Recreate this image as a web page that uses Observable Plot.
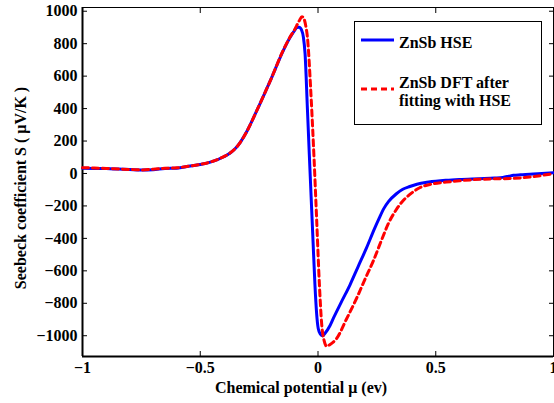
<!DOCTYPE html>
<html>
<head>
<meta charset="utf-8">
<script src="https://cdn.jsdelivr.net/npm/d3@7"></script>
<script src="https://cdn.jsdelivr.net/npm/@observablehq/plot@0.6"></script>
<style>
  html, body { margin: 0; padding: 0; background: #fff; }
  svg text { font-family: "Liberation Serif", "Times New Roman", serif; font-weight: bold; }
</style>
</head>
<body>
<div id="chart"></div>
<script>
// ZnSb HSE (blue solid)
const hseX = [-1, -0.95, -0.9, -0.85, -0.8, -0.75, -0.7, -0.65, -0.6, -0.55, -0.5, -0.45, -0.4, -0.37, -0.35, -0.33, -0.3, -0.26, -0.22, -0.2, -0.15, -0.12, -0.1, -0.09, -0.08, -0.07, -0.062, -0.055, -0.045, -0.037, -0.029, -0.021, -0.013, -0.006, 0.001, 0.01, 0.02, 0.03, 0.05, 0.065, 0.1, 0.136, 0.17, 0.206, 0.24, 0.26, 0.28, 0.3, 0.333, 0.36, 0.39, 0.42, 0.47, 0.545, 0.6, 0.686, 0.75, 0.785, 0.81, 0.83, 0.86, 0.9, 0.95, 1.0];
const hseS = [33, 31, 30, 27, 24, 21, 23, 31, 33, 44, 55, 73, 103, 129, 155, 192, 265, 387, 515, 580, 750, 835, 880, 900, 902, 885, 840, 740, 400, 120, -150, -420, -686, -860, -955, -990, -1000, -985, -940, -893, -790, -686, -575, -459, -340, -275, -215, -172, -125, -97, -80, -66, -53, -42, -37, -32, -28, -24, -17, -11, -8, -5, 0, 5];

// ZnSb DFT after fitting with HSE (red dashed)
const dftX = [-1, -0.95, -0.9, -0.85, -0.8, -0.75, -0.7, -0.65, -0.6, -0.55, -0.5, -0.45, -0.4, -0.37, -0.35, -0.33, -0.3, -0.26, -0.22, -0.2, -0.15, -0.12, -0.1, -0.08, -0.068, -0.06, -0.052, -0.045, -0.03, -0.017, -0.006, 0.006, 0.016, 0.026, 0.037, 0.05, 0.079, 0.12, 0.164, 0.2, 0.234, 0.27, 0.3, 0.33, 0.361, 0.39, 0.432, 0.48, 0.545, 0.6, 0.686, 0.75, 0.828, 0.86, 0.898, 0.95, 1.0];
const dftS = [36, 34, 31, 28, 25, 22, 26, 32, 35, 45, 56, 74, 104, 130, 156, 192, 265, 387, 515, 580, 752, 838, 885, 940, 966, 955, 910, 841, 490, 100, -274, -686, -934, -1030, -1065, -1055, -1017, -900, -769, -650, -542, -410, -305, -228, -168, -129, -88, -66, -53, -45, -36, -33, -30, -27, -22, -12, -1];

const xTicks = [-1, -0.5, 0, 0.5, 1];
const yTicks = [-1000, -800, -600, -400, -200, 0, 200, 400, 600, 800, 1000];
const xLabel = "Chemical potential μ (ev)";
const yLabel = "Seebeck coefficient S ( μV/K )";
const seriesNames = ["ZnSb HSE", "ZnSb DFT after", "fitting with HSE"];

const hse = hseX.map((x, i) => ({x, s: hseS[i]}));
const dft = dftX.map((x, i) => ({x, s: dftS[i]}));

const yDomain = [-1128, 1023];
const fmt = d => (d < 0 ? "\u2212" : "") + String(Math.abs(d));

const plot = Plot.plot({
  width: 554,
  height: 403,
  marginLeft: 82,
  marginRight: 1,
  marginTop: 7,
  marginBottom: 47,
  style: {fontFamily: "'Liberation Serif', 'Times New Roman', serif", fontSize: "16px", fontWeight: "bold", background: "#fff", overflow: "visible"},
  x: {domain: [-1, 1]},
  y: {domain: yDomain},
  marks: [
    Plot.frame({stroke: "#000", strokeWidth: 1}),
    // tick labels (no ticks)
    Plot.axisX({anchor: "bottom", ticks: xTicks, tickSize: 0, tickPadding: 5, tickFormat: fmt, label: null, fill: "#000"}),
    Plot.axisY({anchor: "left", ticks: yTicks, tickSize: 0, tickPadding: 5, tickFormat: fmt, label: null, fill: "#000"}),
    // inward ticks on all four sides
    Plot.axisX({anchor: "bottom", ticks: xTicks, tickSize: 5, dy: -5, tickFormat: () => "", label: null, stroke: "#000"}),
    Plot.axisX({anchor: "top", ticks: xTicks, tickSize: 5, dy: 5, tickFormat: () => "", label: null, stroke: "#000"}),
    Plot.axisY({anchor: "left", ticks: yTicks, tickSize: 5, dx: 5, tickFormat: () => "", label: null, stroke: "#000"}),
    Plot.axisY({anchor: "right", ticks: yTicks, tickSize: 5, dx: -5, tickFormat: () => "", label: null, stroke: "#000"}),
    // thicker left/bottom axis lines
    Plot.ruleX([-1], {stroke: "#000", strokeWidth: 2}),
    Plot.ruleY([yDomain[0]], {stroke: "#000", strokeWidth: 2}),
    // data
    Plot.line(hse, {x: "x", y: "s", stroke: "#0000ff", strokeWidth: 3, curve: "monotone-x"}),
    Plot.line(dft, {x: "x", y: "s", stroke: "#ff0000", strokeWidth: 3, strokeDasharray: "6,4", curve: "monotone-x"}),
    // axis labels
    Plot.text([xLabel], {frameAnchor: "bottom", text: d => d, dy: 31, dx: -17, fontSize: 16, fontWeight: "bold", fill: "#000", textAnchor: "middle", lineAnchor: "middle"}),
    Plot.text([yLabel], {frameAnchor: "left", text: d => d, rotate: -90, dx: -62, dy: 6, fontSize: 16, fontWeight: "bold", fill: "#000", textAnchor: "middle", lineAnchor: "middle"})
  ]
});

document.getElementById("chart").appendChild(plot);

// Legend
const svg = d3.select(plot);
const lg = svg.append("g")
  .attr("font-family", "'Liberation Serif', 'Times New Roman', serif")
  .attr("font-size", 16).attr("font-weight", "bold").attr("text-anchor", "start").attr("fill", "#000");
lg.append("rect").attr("x", 354.5).attr("y", 21.5).attr("width", 187).attr("height", 103).attr("fill", "#fff").attr("stroke", "#000").attr("stroke-width", 1);
lg.append("line").attr("x1", 361).attr("x2", 394).attr("y1", 40).attr("y2", 40).attr("stroke", "#0000ff").attr("stroke-width", 3);
lg.append("line").attr("x1", 361).attr("x2", 394).attr("y1", 89).attr("y2", 89).attr("stroke", "#ff0000").attr("stroke-width", 3).attr("stroke-dasharray", "6,4");
lg.append("text").attr("x", 399).attr("y", 48).text(seriesNames[0]);
lg.append("text").attr("x", 399).attr("y", 88).text(seriesNames[1]);
lg.append("text").attr("x", 399).attr("y", 106).text(seriesNames[2]);
</script>
</body>
</html>
